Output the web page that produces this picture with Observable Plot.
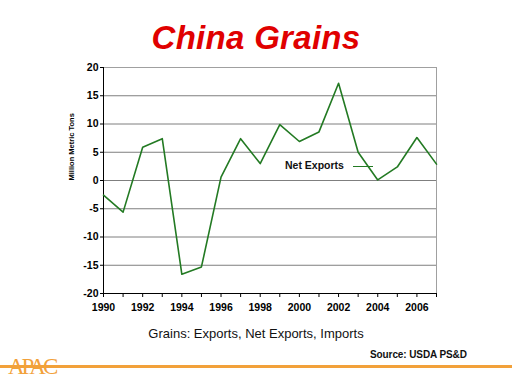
<!DOCTYPE html>
<html><head><meta charset="utf-8">
<script src="https://cdn.jsdelivr.net/npm/d3@7"></script>
<script src="https://cdn.jsdelivr.net/npm/@observablehq/plot@0.6"></script>
<style>
body{margin:0;background:#fff;font-family:"Liberation Sans",Arial,sans-serif;}
#wrap{position:relative;width:512px;height:384px;overflow:hidden;}
#chart{position:absolute;left:0;top:0;}
.abs{position:absolute;white-space:nowrap;}
</style></head>
<body><div id="wrap">
<div id="chart"></div>
<div class="abs" id="title" style="left:0;width:512px;top:19px;text-align:center;color:#e00000;font-weight:bold;font-style:italic;font-size:33px;letter-spacing:0.3px;">China Grains</div>
<div class="abs" id="legend" style="left:285px;top:159px;font-size:10.5px;font-weight:bold;color:#111;">Net Exports<span style="display:inline-block;width:20px;height:0;border-top:1.5px solid #237a23;margin-left:9px;vertical-align:middle;"></span></div>
<div class="abs" style="left:0;width:512px;top:326px;text-align:center;font-size:13px;color:#111;">Grains: Exports, Net Exports, Imports</div>
<div class="abs" style="left:370px;top:349px;font-size:10px;font-weight:bold;color:#111;letter-spacing:-0.1px;">Source: USDA PS&amp;D</div>
<div class="abs" style="left:0;top:365px;width:512px;height:3px;background:#f2a13a;"></div>
<div class="abs" style="left:8px;top:354px;font-family:'Liberation Serif',serif;font-size:23px;color:#f2a13a;letter-spacing:-3px;">APAC</div>
</div>
<script>
const years = [1990,1991,1992,1993,1994,1995,1996,1997,1998,1999,2000,2001,2002,2003,2004,2005,2006,2007];
const netExports = [-2.6,-5.6,5.9,7.4,-16.6,-15.3,0.6,7.4,3.0,9.9,6.9,8.6,17.2,5.0,0.1,2.4,7.6,2.9];
const yTicks = [-20,-15,-10,-5,0,5,10,15,20];
const xLabelYears = [1990,1992,1994,1996,1998,2000,2002,2004,2006];
const yLabel = "Million Metric Tons";

const data = years.map((y,i)=>({year:y, value:netExports[i]}));

const chart = Plot.plot({
  width:512, height:384,
  marginLeft:103, marginRight:76, marginTop:67, marginBottom:91,
  style:{fontFamily:"'Liberation Sans', Arial, sans-serif", background:"transparent"},
  x:{domain:[1990,2007], axis:null},
  y:{domain:[-20,20], axis:null},
  marks:[
    Plot.ruleY(yTicks.filter(d=>d>-20), {stroke:"#7f7f7f", strokeWidth:1}),
    Plot.ruleX([2007], {stroke:"#a0a0a0", strokeWidth:1}),
    Plot.ruleY([20], {stroke:"#a0a0a0", strokeWidth:1}),
    Plot.ruleX([1990], {stroke:"#000", strokeWidth:1}),
    Plot.ruleY([-20], {stroke:"#000", strokeWidth:1}),
    Plot.axisY({ticks:yTicks, tickSize:3, tickPadding:2, tickFormat:d=>String(d), fontSize:10.5, fontWeight:"bold", fill:"#000", label:null}),
    Plot.axisX({ticks:years, tickSize:4, tickFormat:()=>"", label:null}),
    Plot.axisX({ticks:xLabelYears, tickSize:0, tickPadding:10, tickFormat:d=>String(d), fontSize:10.5, fontWeight:"bold", fill:"#000", label:null}),
    Plot.text([yLabel], {frameAnchor:"left", dx:-32, rotate:-90, text:d=>d, fontSize:7.5, fontWeight:"bold", fill:"#000"}),
    Plot.line(data, {x:"year", y:"value", stroke:"#237a23", strokeWidth:1.6})
  ]
});
document.getElementById("chart").appendChild(chart);
</script>
</body></html>
